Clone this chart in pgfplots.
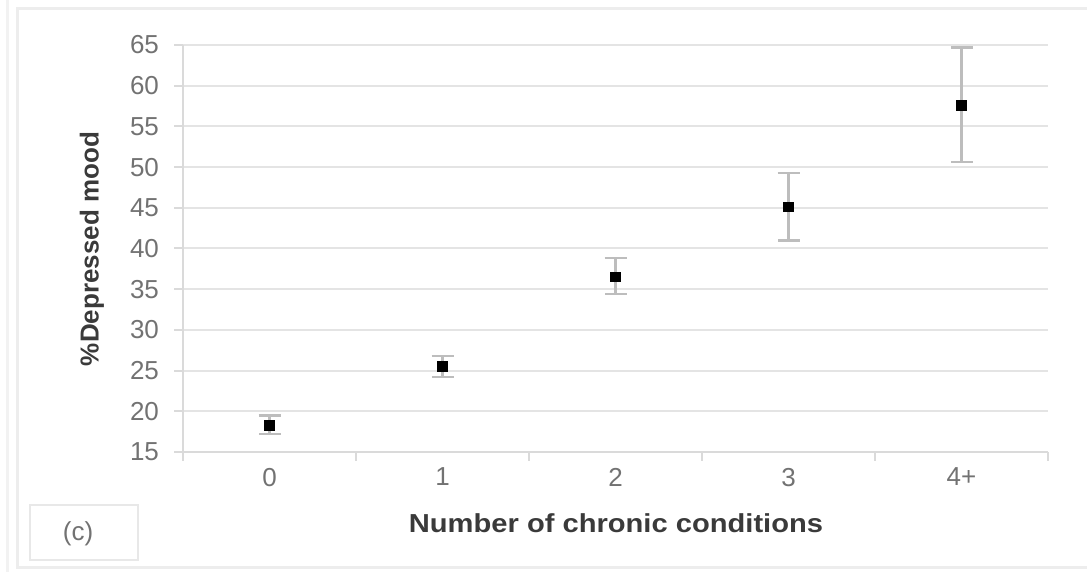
\documentclass[border=0pt]{standalone}
\usepackage{fontspec}
\setmainfont{Liberation Sans}
\usepackage{pgfplots}
\pgfplotsset{compat=1.18}
\definecolor{gridc}{HTML}{E4E4E4}
\definecolor{axc}{HTML}{DADADA}
\definecolor{tickc}{HTML}{727272}
\definecolor{labc}{HTML}{3A3A3A}
\definecolor{errc}{HTML}{BDBDBD}
\begin{document}
\begin{tikzpicture}
\useasboundingbox (0,0) rectangle (543.5pt,286pt);
\draw[gray!10, line width=1.5pt] (3.5pt,0pt) -- (3.5pt,286pt);
\draw[gray!14, line width=1.5pt] (543.5pt,281.5pt) -- (8.5pt,281.5pt) -- (8.5pt,2pt) -- (543.5pt,2pt);
\begin{axis}[
  at={(91.5pt,60pt)}, anchor=south west,
  scale only axis, width=432.5pt, height=203.5pt,
  xmin=-0.5, xmax=4.5, ymin=15, ymax=65,
  xtick={-0.5,0.5,1.5,2.5,3.5,4.5},
  x tick label as interval,
  xticklabels={0,1,2,3,4+},
  ytick={15,20,...,65},
  ymajorgrids,
  grid style={gridc, line width=1pt},
  axis lines*=left,
  axis line style={axc, line width=1.2pt},
  tick align=outside,
  major tick length=4.5pt,
  tick style={axc, line width=1pt},
  /pgf/number format/assume math mode=true,
  tick label style={font=\fontsize{13}{15}\selectfont, text=tickc},
  yticklabel style={xshift=-4pt},
  clip=false,
]
\addplot+[only marks, mark=square*, mark size=2.4pt, black, mark options={black, fill=black},
  error bars/.cd, y dir=both, y explicit,
  error bar style={errc, line width=1.2pt},
  error mark options={errc, rotate=90, mark size=5.5pt, line width=1.2pt}]
  table[x=x, y=y, y error plus=ep, y error minus=em] {
x y ep em
0 18.3 1.2 1.1
1 25.5 1.3 1.3
2 36.5 2.3 2.1
3 45.1 4.2 4.1
4 57.6 7.1 7.0
};
\end{axis}
\node[rotate=90, text=labc, font=\fontsize{13}{15}\selectfont\bfseries] at (46pt,161.5pt) {\%Depressed mood};
\node[text=labc, font=\fontsize{13}{15}\selectfont\bfseries] at (308pt,24.5pt) {\scalebox{1.12}[1]{Number of chronic conditions}};
\draw[gray!18, line width=1.2pt] (15pt,6pt) rectangle (69pt,33.5pt);
\node[text=tickc, font=\fontsize{13}{15}\selectfont] at (39pt,19pt) {(c)};
\end{tikzpicture}
\end{document}
